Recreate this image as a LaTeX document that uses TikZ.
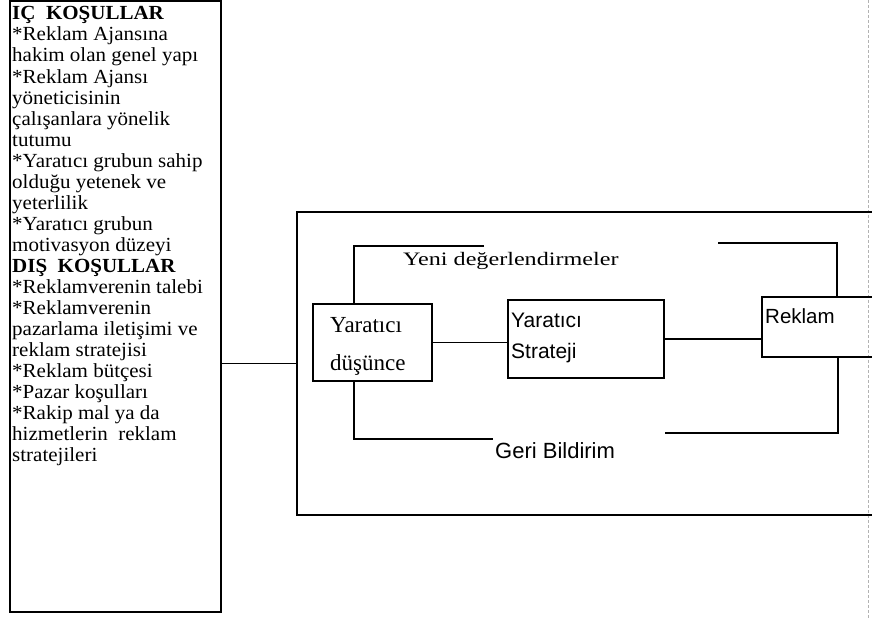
\documentclass[tikz,border=0pt]{standalone}
\usepackage{fontspec}
\setmainfont{Liberation Serif}
\setsansfont{Liberation Sans}
\newfontfamily\leftfont{Liberation Serif}[FakeStretch=1.05]
\begin{document}
\begin{tikzpicture}[x=1pt,y=-1pt,
  box/.style={draw, line width=1.4pt, inner sep=0pt, outer sep=0pt},
  conn/.style={line width=1.4pt},
  brk/.style={line width=1.8pt},
  lefttext/.style={inner sep=0pt, anchor=base west, font=\leftfont\fontsize{20}{21}\selectfont},
  sertext/.style={inner sep=0pt, anchor=base west, font=\fontsize{23}{26}\selectfont},
  santext/.style={inner sep=0pt, anchor=base west, font=\sffamily\fontsize{21}{24}\selectfont}]
\useasboundingbox (0,0) rectangle (872,618);
\clip (0,0) rectangle (872,618);
% scan edge artifact
\draw[gray!60, line width=0.6pt, dash pattern=on 3pt off 2pt] (868,0) -- (868,618);
% left box
\node[box, minimum width=211pt, minimum height=611pt] (left) at (115.5,306.5) {};
\foreach \t [count=\i] in {{\textbf{IÇ\ \ KOŞULLAR}},*Reklam Ajansına,hakim olan genel yapı,*Reklam Ajansı,yöneticisinin,çalışanlara yönelik,tutumu,*Yaratıcı grubun sahip,olduğu yetenek ve,yeterlilik,*Yaratıcı grubun,motivasyon düzeyi,{\textbf{DIŞ\ \ KOŞULLAR}},*Reklamverenin talebi,*Reklamverenin,pazarlama iletişimi ve,reklam stratejisi,*Reklam bütçesi,*Pazar koşulları,*Rakip mal ya da,hizmetlerin\ \ reklam,stratejileri}
  \node[lefttext] (L\i) at (12,{20+21*(\i-1)}) {\t};
% outer frame
\node[box, minimum width=583pt, minimum height=303pt] (frame) at (588.5,363.5) {};
% inner boxes
\node[box, minimum width=119pt, minimum height=77pt] (dus) at (372.5,342.5) {};
\node[box, minimum width=156pt, minimum height=78pt] (str) at (586,339) {};
\node[box, minimum width=118pt, minimum height=60pt] (rek) at (821,327) {};
% texts in boxes
\node[sertext] (dus1) at (330,332) {Yaratıcı};
\node[sertext] (dus2) at (330,370) {düşünce};
\node[santext] (str1) at (511,327) {Yaratıcı};
\node[santext] (str2) at (511,358) {Strateji};
\node[santext, font=\sffamily\fontsize{20.5}{24}\selectfont] (rek1) at (765,323) {Reklam};
% labels
\node[inner sep=0pt, anchor=base west, font=\fontsize{19}{22}\selectfont] (yeni) at (403,265) {\scalebox{1.27}[1]{Yeni değerlendirmeler}};
\node[inner sep=0pt, anchor=base west, font=\sffamily\fontsize{22}{26}\selectfont] (geri) at (495,458) {Geri Bildirim};
% connectors
\draw[conn] (frame.west) -- (frame.west -| left.east);
\draw[conn] (dus.east) -- (dus.east -| str.west);
\draw[conn] (str.east) -- (str.east -| rek.west);
% feedback brackets
\coordinate (yc) at (354,246);
\coordinate (ye) at (484,246);
\coordinate (rs) at (718,243);
\coordinate (rc) at (837,243);
\coordinate (gc) at (354,439);
\coordinate (ge) at (493,439);
\coordinate (hs) at (665,433);
\coordinate (hc) at (838,433);
\draw[brk] (ye) -- (yc) -- (yc |- dus.north);
\draw[brk] (rs) -- (rc) -- (rc |- rek.north);
\draw[brk] (gc |- dus.south) -- (gc) -- (ge);
\draw[brk] (hs) -- (hc) -- (hc |- rek.south);
\end{tikzpicture}
\end{document}
